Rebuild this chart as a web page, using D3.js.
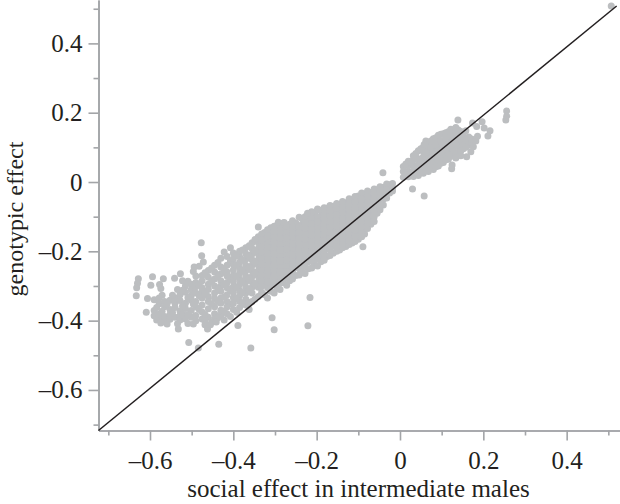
<!DOCTYPE html>
<html><head><meta charset="utf-8">
<style>html,body{margin:0;padding:0;background:#fff}svg{display:block}text{font-family:"Liberation Serif",serif;fill:#231f20}</style>
<script src="https://cdn.jsdelivr.net/npm/d3@7/dist/d3.min.js"></script>
</head><body><svg id="c" width="620" height="504"></svg>
<script>
const majorTicksX=[-0.6,-0.4,-0.2,0,0.2,0.4];
const minorTicksX=[-0.7,-0.5,-0.3,-0.1,0.1,0.3,0.5];
const majorTicksY=[-0.6,-0.4,-0.2,0,0.2,0.4];
const minorTicksY=[-0.7,-0.5,-0.3,-0.1,0.1,0.3,0.5];
const xTitle="social effect in intermediate males";
const yTitle="genotypic effect";
const identityLine=[[-0.7236,-0.717],[0.52,0.508]];
const outliers=[[-0.628,-0.279],[-0.630,-0.292],[-0.632,-0.305],[-0.633,-0.328],[-0.594,-0.273],[-0.598,-0.298],[-0.577,-0.296],[-0.574,-0.307],[-0.568,-0.279],[-0.541,-0.278],[-0.527,-0.265],[-0.522,-0.285],[-0.606,-0.336],[-0.609,-0.376],[-0.574,-0.407],[-0.532,-0.424],[-0.507,-0.463],[-0.484,-0.479],[-0.435,-0.468],[-0.358,-0.479],[-0.477,-0.175],[-0.476,-0.213],[-0.472,-0.231],[-0.482,-0.243],[-0.494,-0.245],[-0.468,-0.412],[-0.462,-0.424],[-0.455,-0.412],[-0.441,-0.404],[-0.389,-0.414],[-0.307,-0.392],[-0.302,-0.426],[-0.221,-0.415],[-0.216,-0.333],[-0.340,-0.130],[-0.292,-0.116],[-0.278,-0.117],[-0.222,-0.09],[-0.196,-0.08],[-0.089,-0.187],[-0.041,0.027],[0.030,-0.020],[0.058,-0.040],[0.139,0.179],[0.197,0.174],[0.174,0.170],[0.184,0.160],[0.211,0.133],[0.216,0.148],[0.202,0.156],[0.256,0.205],[0.256,0.190],[0.254,0.179],[0.170,0.087],[0.160,0.073],[0.124,0.038],[0.134,0.069],[0.125,0.049],[0.507,0.508],[0.062,0.118],[0.058,0.108],[0.182,0.118],[0.186,0.132],[0.176,0.102],[0.146,0.076]];
const tailColumns=[
[-0.590,[-0.34,-0.371,-0.386]],[-0.578,[-0.335,-0.351,-0.381,-0.392]],[-0.565,[-0.345,-0.36,-0.388,-0.402]],
[-0.552,[-0.341,-0.368,-0.382,-0.396]],[-0.540,[-0.335,-0.35,-0.362,-0.39]],[-0.528,[-0.325,-0.342,-0.372,-0.385,-0.398]],
[-0.515,[-0.30,-0.318,-0.35,-0.365,-0.395]],[-0.501,[-0.295,-0.311,-0.328,-0.341,-0.371,-0.39]],[-0.490,[-0.271,-0.29,-0.302,-0.32,-0.345,-0.361,-0.385,-0.40]],
[-0.475,[-0.27,-0.285,-0.305,-0.316,-0.335,-0.355,-0.375,-0.395]],[-0.460,[-0.255,-0.275,-0.295,-0.31,-0.33,-0.345,-0.366,-0.39]],[-0.445,[-0.24,-0.26,-0.28,-0.30,-0.32,-0.336,-0.36,-0.38,-0.395]],
[-0.430,[-0.22,-0.245,-0.265,-0.285,-0.30,-0.315,-0.335,-0.35,-0.37,-0.385]],[-0.415,[-0.215,-0.24,-0.26,-0.271,-0.29,-0.305,-0.325,-0.345,-0.36,-0.38]]];
const tailFill=[
[-0.584,[-0.362,-0.398]],[-0.571,[-0.327,-0.373]],[-0.559,[-0.351,-0.41]],[-0.546,[-0.327,-0.377]],[-0.534,[-0.31,-0.409]],[-0.522,[-0.312,-0.358,-0.381]],
[-0.509,[-0.286,-0.334,-0.382,-0.408]],[-0.496,[-0.258,-0.352,-0.41]],[-0.482,[-0.296,-0.328,-0.368]],[-0.468,[-0.262,-0.32,-0.382,-0.401]],
[-0.452,[-0.248,-0.287,-0.352,-0.405]],[-0.437,[-0.232,-0.272,-0.308,-0.345,-0.392]],[-0.422,[-0.202,-0.252,-0.296,-0.332,-0.372,-0.398]],[-0.407,[-0.19,-0.228,-0.278,-0.312,-0.352,-0.388]]];
const bandColumns=[
[-0.400,[-0.205,-0.222,-0.238,-0.254,-0.27,-0.286,-0.302,-0.318,-0.334,-0.35,-0.368]],[-0.385,[-0.2,-0.216,-0.232,-0.248,-0.264,-0.28,-0.296,-0.312,-0.328,-0.344,-0.362]],
[-0.370,[-0.19,-0.207,-0.223,-0.24,-0.256,-0.272,-0.288,-0.304,-0.32,-0.338,-0.355]],[-0.355,[-0.175,-0.192,-0.208,-0.224,-0.24,-0.256,-0.272,-0.288,-0.304,-0.32,-0.345]],
[-0.340,[-0.158,-0.175,-0.192,-0.208,-0.224,-0.24,-0.256,-0.272,-0.288,-0.304,-0.33]],[-0.325,[-0.146,-0.163,-0.18,-0.197,-0.213,-0.23,-0.246,-0.262,-0.278,-0.296,-0.325]],
[-0.310,[-0.132,-0.149,-0.166,-0.183,-0.2,-0.216,-0.232,-0.248,-0.264,-0.28,-0.298,-0.315]],[-0.295,[-0.125,-0.142,-0.158,-0.175,-0.191,-0.208,-0.224,-0.24,-0.256,-0.272,-0.288,-0.305]],
[-0.280,[-0.118,-0.135,-0.152,-0.168,-0.185,-0.201,-0.218,-0.234,-0.25,-0.266,-0.29]],[-0.265,[-0.122,-0.138,-0.154,-0.17,-0.186,-0.202,-0.218,-0.234,-0.25,-0.266,-0.285]],
[-0.250,[-0.118,-0.134,-0.15,-0.166,-0.182,-0.198,-0.214,-0.23,-0.246,-0.27]],[-0.235,[-0.105,-0.122,-0.138,-0.154,-0.17,-0.186,-0.202,-0.218,-0.234,-0.26]],
[-0.220,[-0.096,-0.113,-0.13,-0.146,-0.162,-0.178,-0.194,-0.21,-0.23,-0.25]],[-0.205,[-0.09,-0.107,-0.123,-0.139,-0.155,-0.171,-0.187,-0.203,-0.22,-0.238]],
[-0.190,[-0.082,-0.098,-0.115,-0.131,-0.147,-0.163,-0.179,-0.195,-0.212,-0.23]],[-0.175,[-0.076,-0.093,-0.11,-0.126,-0.142,-0.158,-0.174,-0.19,-0.215]],
[-0.160,[-0.07,-0.087,-0.104,-0.12,-0.136,-0.152,-0.168,-0.185,-0.205]],[-0.145,[-0.065,-0.082,-0.098,-0.114,-0.13,-0.146,-0.162,-0.178,-0.196]],
[-0.130,[-0.06,-0.077,-0.094,-0.11,-0.126,-0.142,-0.158,-0.172,-0.186]],[-0.115,[-0.051,-0.068,-0.085,-0.101,-0.117,-0.133,-0.149,-0.164,-0.176]],
[-0.100,[-0.04,-0.058,-0.075,-0.091,-0.107,-0.123,-0.139,-0.152,-0.165]],[-0.085,[-0.036,-0.053,-0.07,-0.086,-0.102,-0.118,-0.134,-0.15]],
[-0.070,[-0.03,-0.047,-0.064,-0.08,-0.096,-0.11,-0.122]],[-0.055,[-0.022,-0.04,-0.056,-0.072,-0.09]],[-0.040,[-0.015,-0.032,-0.049,-0.066]],[-0.025,[-0.008,-0.02,-0.032]]];
const bandFill=[
[-0.392,[-0.212,-0.24,-0.272,-0.304,-0.336,-0.376]],[-0.378,[-0.196,-0.224,-0.256,-0.288,-0.32,-0.35]],[-0.362,[-0.184,-0.216,-0.248,-0.28,-0.312,-0.348,-0.368]],
[-0.348,[-0.166,-0.2,-0.232,-0.264,-0.296,-0.338]],[-0.332,[-0.15,-0.185,-0.22,-0.252,-0.284,-0.318]],[-0.318,[-0.138,-0.172,-0.206,-0.238,-0.27,-0.305,-0.335]],
[-0.302,[-0.128,-0.158,-0.192,-0.224,-0.256,-0.29,-0.32]],[-0.288,[-0.126,-0.146,-0.18,-0.212,-0.244,-0.276,-0.31]],[-0.272,[-0.128,-0.146,-0.178,-0.21,-0.242,-0.276,-0.298]],
[-0.258,[-0.112,-0.13,-0.162,-0.194,-0.226,-0.258,-0.28]],[-0.242,[-0.102,-0.13,-0.162,-0.194,-0.226,-0.25,-0.268]],[-0.228,[-0.1,-0.118,-0.15,-0.182,-0.214,-0.244,-0.264]],
[-0.212,[-0.086,-0.104,-0.136,-0.168,-0.2,-0.228,-0.248]],[-0.198,[-0.078,-0.102,-0.128,-0.16,-0.192,-0.222,-0.242]],[-0.182,[-0.074,-0.09,-0.122,-0.154,-0.186,-0.206,-0.226]],
[-0.168,[-0.068,-0.084,-0.116,-0.148,-0.18,-0.212]],[-0.152,[-0.062,-0.078,-0.11,-0.142,-0.174,-0.2]],[-0.138,[-0.056,-0.072,-0.104,-0.136,-0.168,-0.19]],
[-0.122,[-0.048,-0.064,-0.096,-0.128,-0.16,-0.18]],[-0.108,[-0.042,-0.06,-0.092,-0.124,-0.156,-0.172]],[-0.092,[-0.032,-0.05,-0.082,-0.114,-0.146,-0.158]],
[-0.078,[-0.026,-0.042,-0.074,-0.106,-0.134]],[-0.062,[-0.02,-0.034,-0.066,-0.1,-0.114]],[-0.048,[-0.014,-0.026,-0.058,-0.08]],[-0.032,[-0.006,-0.024,-0.046]],[-0.018,[-0.004,-0.016,-0.026]]];
const bandInterior=[
[-0.332,[-0.168,-0.202,-0.236,-0.268,-0.3]],[-0.318,[-0.155,-0.189,-0.222,-0.254,-0.288]],[-0.302,[-0.143,-0.175,-0.208,-0.24,-0.272]],[-0.288,[-0.163,-0.196,-0.228,-0.26,-0.292]],
[-0.272,[-0.162,-0.194,-0.226,-0.258]],[-0.258,[-0.146,-0.178,-0.21,-0.242]],[-0.242,[-0.146,-0.178,-0.21,-0.238]],[-0.228,[-0.134,-0.166,-0.198,-0.23]],
[-0.212,[-0.12,-0.152,-0.184,-0.214]],[-0.198,[-0.115,-0.144,-0.176,-0.207]],[-0.182,[-0.106,-0.138,-0.17,-0.196]],[-0.168,[-0.1,-0.132,-0.164,-0.196]],
[-0.152,[-0.094,-0.126,-0.158,-0.187]],[-0.138,[-0.088,-0.12,-0.152,-0.179]],[-0.122,[-0.08,-0.112,-0.144,-0.17]],[-0.108,[-0.076,-0.108,-0.14]],
[-0.092,[-0.066,-0.098,-0.13]],[-0.078,[-0.058,-0.09,-0.12]],[-0.062,[-0.05,-0.083]],[-0.048,[-0.042,-0.07]]];
const upperColumns=[
[0.008,[0.014,0.03,0.045]],[0.020,[0.015,0.031,0.047,0.06]],[0.032,[0.016,0.032,0.048,0.064,0.076]],[0.044,[0.019,0.035,0.051,0.067,0.09]],
[0.056,[0.025,0.041,0.057,0.073,0.089,0.1]],[0.068,[0.03,0.046,0.062,0.078,0.094,0.11]],[0.080,[0.036,0.052,0.068,0.084,0.1,0.116,0.125]],
[0.092,[0.046,0.062,0.078,0.094,0.11,0.126,0.135]],[0.104,[0.056,0.072,0.088,0.104,0.12,0.139]],[0.116,[0.066,0.082,0.098,0.114,0.13,0.145]],
[0.128,[0.076,0.092,0.108,0.124,0.14,0.15]],[0.140,[0.086,0.102,0.118,0.134,0.15]],[0.152,[0.096,0.112,0.128,0.141]],[0.165,[0.106,0.119,0.13]]];
const upperFill=[[0.014,[0.022,0.052]],[0.026,[0.024,0.058]],[0.038,[0.028,0.07,0.082]],[0.050,[0.027,0.06,0.096]],[0.062,[0.034,0.085,0.108]],[0.074,[0.04,0.07,0.102,0.118]],
[0.086,[0.044,0.076,0.108,0.128]],[0.098,[0.054,0.086,0.118,0.138]],[0.110,[0.064,0.096,0.128,0.142]],[0.122,[0.074,0.106,0.138,0.152]],[0.134,[0.08,0.112,0.144,0.157]],[0.146,[0.09,0.124,0.146]],[0.158,[0.1,0.122,0.148]],[0.172,[0.112,0.124]]];

const socialEffect=[], genotypicEffect=[];
for(const [xv,ys] of [...tailColumns,...tailFill,...bandColumns,...bandFill,...bandInterior,...upperColumns,...upperFill]) ys.forEach(v=>{socialEffect.push(xv);genotypicEffect.push(v);});
outliers.forEach(([a,b])=>{socialEffect.push(a);genotypicEffect.push(b);});

const svg=d3.select("#c");
const x=d3.scaleLinear().domain([-0.7236,0.528]).range([98.5,620]);
const y=d3.scaleLinear().domain([-0.717,0.5252]).range([430.5,0]);
const grey="#a3a5a8", dot="#bcbec0", ink="#231f20";
const fmt=v=>v===0?"0":(v<0?"\u2013":"")+Math.abs(v).toFixed(1);

svg.append("g").selectAll("circle").data(socialEffect).join("circle")
 .attr("cx",d=>x(d)).attr("cy",(d,i)=>y(genotypicEffect[i])).attr("r",3.5).attr("fill",dot);

function axis(gen,tr,size,vals,lab){
 const g=svg.append("g").attr("transform",tr).call(gen.tickValues(vals).tickSize(size).tickSizeOuter(0).tickPadding(lab?6:0).tickFormat(lab?fmt:()=>""));
 g.selectAll("path,line").attr("stroke",grey).attr("stroke-width",1.6);
 g.selectAll("text").style("font-size","25px").style("font-family",'"Liberation Serif",serif').attr("fill",ink);
 return g;
}
axis(d3.axisBottom(x),"translate(0,430.5)",5,minorTicksX,false);
axis(d3.axisBottom(x),"translate(0,430.5)",10,majorTicksX,true).selectAll("text").attr("dy","0.9em");
axis(d3.axisLeft(y),"translate(98.5,0)",5,minorTicksY,false);
axis(d3.axisLeft(y),"translate(98.5,0)",10,majorTicksY,true);

svg.append("path").datum(identityLine).attr("fill","none").attr("stroke",ink).attr("stroke-width",1.5)
 .attr("d",d3.line().x(d=>x(d[0])).y(d=>y(d[1])));

svg.append("text").attr("x",358.5).attr("y",497).attr("text-anchor","middle").style("font-size","25px").text(xTitle);
svg.append("text").attr("transform","translate(23,219) rotate(-90)").attr("text-anchor","middle").style("font-size","24px").text(yTitle);
</script></body></html>
